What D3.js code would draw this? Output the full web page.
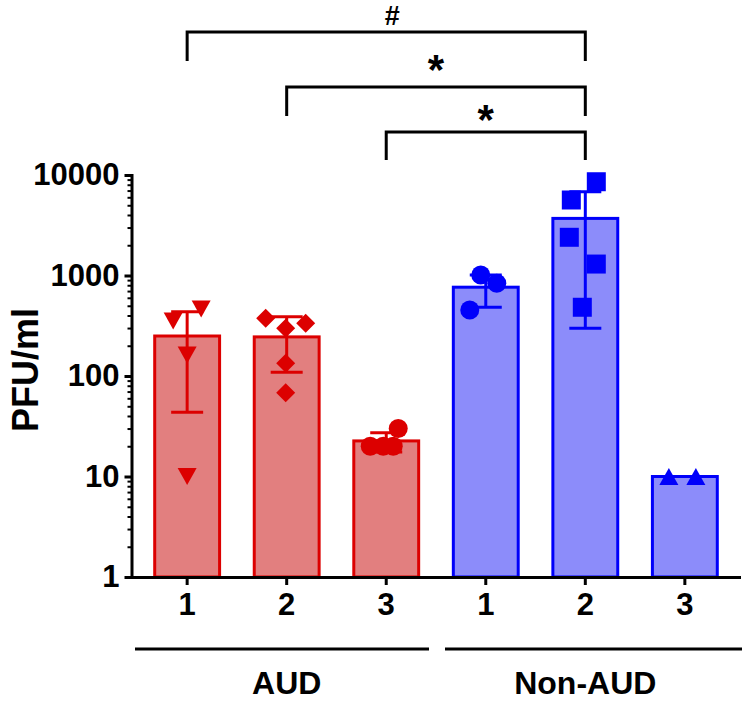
<!DOCTYPE html>
<html lang="en">
<head>
<meta charset="UTF-8" />
<title>PFU/ml by group</title>
<script src="https://d3js.org/d3.v7.min.js"></script>
<style>
  body { margin: 0; background: #fff; }
  svg { display: block; font-family: "Liberation Sans", Arial, Helvetica, sans-serif; }
</style>
</head>
<body>
<svg id="chart" width="742" height="702"></svg>
<script>
// values
const categories = ["AUD 1", "AUD 2", "AUD 3", "Non-AUD 1", "Non-AUD 2", "Non-AUD 3"];
const tickLabels = ["1", "2", "3", "1", "2", "3"];
const groups = ["AUD", "Non-AUD"];
const barMeans = [250, 245, 22.6, 765, 3700, 10];
const errLow = [43.5, 109, 17.5, 483, 299, 10];
const errHigh = [436, 389, 27.3, 1010, 6800, 10];
const aud1 = [352, 464, 162, 10];
const aud2 = [375, 298, 335, 134, 68];
const aud3 = [20, 20, 20, 30];
const nonAud1 = [1012, 836, 454];
const nonAud2 = [8570, 5640, 2400, 1300, 483];
const nonAud3 = [10, 10];
const yTicks = [1, 10, 100, 1000, 10000];
const comparisons = [
  ["AUD 1", "Non-AUD 2", "#"],
  ["AUD 2", "Non-AUD 2", "*"],
  ["AUD 3", "Non-AUD 2", "*"]
];

// layout
const points = [aud1, aud2, aud3, nonAud1, nonAud2, nonAud3];
const jitter = [
  [-14, 14, 0, 0],
  [-21, -1, 19, -1, -1],
  [-16, -3, 7, 12],
  [-5, 11, -16],
  [11, -14, -16, 11, -3],
  [-16, 11]
];
const shapes = ["triDown", "diamond", "circle", "circle", "square", "triUp"];
const red = { stroke: "#dc0000", fill: "#e27f7f" };
const blue = { stroke: "#0000fa", fill: "#8c8cfa" };
const colorOf = (i) => (i < 3 ? red : blue);

const symbolPath = {
  triDown: "M-9.5,-8.5L9.5,-8.5L0,8.5Z",
  triUp: "M-9.5,8.5L9.5,8.5L0,-8.5Z",
  diamond: "M0,-9.5L9.5,0L0,9.5L-9.5,0Z",
  square: "M-9.5,-9.5H9.5V9.5H-9.5Z",
  circle: "M9.5,0A9.5,9.5 0 1,1 -9.5,0A9.5,9.5 0 1,1 9.5,0Z"
};

const svg = d3.select("#chart");

const x = d3
  .scaleBand()
  .domain(categories)
  .range([133, 739])
  .paddingInner(0.318)
  .paddingOuter(0.203);
const cx = (c) => x(c) + x.bandwidth() / 2;

const y = d3.scaleLog().domain([1, 10000]).range([577, 175]);

// bars
svg
  .selectAll(".bar")
  .data(categories)
  .enter()
  .append("rect")
  .attr("class", "bar")
  .attr("x", (d) => x(d) + 1.5)
  .attr("width", x.bandwidth() - 3)
  .attr("y", (d, i) => y(barMeans[i]))
  .attr("height", (d, i) => y(1) - y(barMeans[i]))
  .attr("fill", (d, i) => colorOf(i).fill)
  .attr("stroke", (d, i) => colorOf(i).stroke)
  .attr("stroke-width", 3);

// error bars (mean +/- SD)
const err = svg
  .selectAll(".err")
  .data(categories)
  .enter()
  .append("g")
  .attr("class", "err")
  .attr("stroke", (d, i) => colorOf(i).stroke)
  .attr("stroke-width", 3);
err
  .append("line")
  .attr("x1", (d) => cx(d))
  .attr("x2", (d) => cx(d))
  .attr("y1", (d, i) => y(errLow[i]))
  .attr("y2", (d, i) => y(errHigh[i]));
err
  .append("line")
  .attr("x1", (d) => cx(d) - 16)
  .attr("x2", (d) => cx(d) + 16)
  .attr("y1", (d, i) => y(errHigh[i]))
  .attr("y2", (d, i) => y(errHigh[i]));
err
  .append("line")
  .attr("x1", (d) => cx(d) - 16)
  .attr("x2", (d) => cx(d) + 16)
  .attr("y1", (d, i) => y(errLow[i]))
  .attr("y2", (d, i) => y(errLow[i]));

// individual points
categories.forEach((c, i) => {
  svg
    .selectAll(".pt" + i)
    .data(points[i])
    .enter()
    .append("path")
    .attr("class", "pt" + i)
    .attr("d", symbolPath[shapes[i]])
    .attr("transform", (v, j) => `translate(${cx(c) + jitter[i][j]},${y(v)})`)
    .attr("fill", colorOf(i).stroke);
});

// y axis
const yAxis = svg
  .append("g")
  .attr("transform", "translate(131.5,0)")
  .call(
    d3
      .axisLeft(y)
      .tickValues(yTicks)
      .tickFormat(d3.format("d"))
      .tickSize(7)
      .tickSizeOuter(0)
      .tickPadding(5)
  );
const minor = [];
yTicks.slice(0, -1).forEach((t) => {
  for (let k = 2; k < 10; k++) minor.push(t * k);
});
svg
  .append("g")
  .attr("transform", "translate(131.5,0)")
  .call(d3.axisLeft(y).tickValues(minor).tickFormat("").tickSize(4).tickSizeOuter(0))
  .call((g) => g.select(".domain").remove())
  .selectAll("line")
  .attr("stroke-width", 2);

// x axis
const xAxis = svg
  .append("g")
  .attr("transform", "translate(0,577)")
  .call(
    d3
      .axisBottom(x)
      .tickFormat((d, i) => tickLabels[i])
      .tickSize(8)
      .tickSizeOuter(0)
      .tickPadding(8)
  );

[yAxis, xAxis].forEach((g) => {
  g.select(".domain").attr("stroke-width", 3).attr("stroke-linecap", "square");
  g.selectAll(".tick line").attr("stroke-width", 3);
  g.selectAll("text")
    .attr("fill", "#000")
    .style("font-size", "31px")
    .style("font-weight", "bold")
    .style("font-family", "'Liberation Sans', Arial, sans-serif");
});

// y label
svg
  .append("text")
  .attr("transform", "translate(38,370) rotate(-90)")
  .attr("text-anchor", "middle")
  .style("font-size", "36px")
  .style("font-weight", "bold")
  .text("PFU/ml");

// group lines and labels
const groupLines = [[135, 429], [445, 742]];
groups.forEach((gName, gi) => {
  const cats = categories.slice(gi * 3, gi * 3 + 3);
  svg
    .append("line")
    .attr("x1", groupLines[gi][0])
    .attr("x2", groupLines[gi][1])
    .attr("y1", 649)
    .attr("y2", 649)
    .attr("stroke", "#000")
    .attr("stroke-width", 3);
  svg
    .append("text")
    .attr("x", cx(cats[1]))
    .attr("y", 694)
    .attr("text-anchor", "middle")
    .style("font-size", "32px")
    .style("font-weight", "bold")
    .text(gName);
});

// significance brackets
const bracketY = [32, 87, 132];
const legY = [61, 116, 160];
const labelY = [25, 84, 134];
comparisons.forEach(([a, b, label], i) => {
  const x1 = cx(a), x2 = cx(b);
  svg
    .append("path")
    .attr("d", `M${x1},${legY[i]}V${bracketY[i]}H${x2}V${legY[i]}`)
    .attr("fill", "none")
    .attr("stroke", "#000")
    .attr("stroke-width", 3);
  const t = svg
    .append("text")
    .attr("x", (x1 + x2) / 2 + (label === "#" ? 6 : 0))
    .attr("y", labelY[i])
    .attr("text-anchor", "middle")
    .style("font-weight", "bold")
    .text(label);
  t.style("font-size", label === "#" ? "27px" : "42px");
});
</script>
</body>
</html>
